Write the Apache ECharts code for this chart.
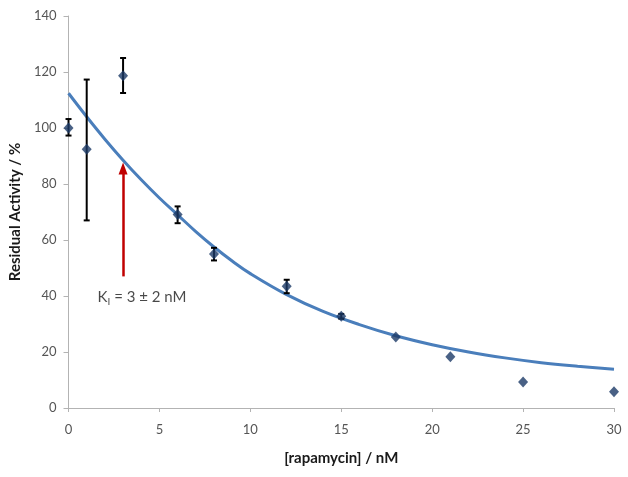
<!DOCTYPE html>
<html><head><meta charset="utf-8">
<script src="https://cdn.jsdelivr.net/npm/echarts@6/dist/echarts.min.js"></script>
<style>html,body{margin:0;padding:0;background:#fff}#c{width:628px;height:477px}</style>
</head><body><div id="c"></div>
<script>
// measured data
const conc = [0, 1, 3, 6, 8, 12, 15, 18, 21, 25, 30];
const activity = [100, 92.4, 118.7, 69.1, 55.0, 43.5, 32.8, 25.4, 18.3, 9.3, 5.8];
const errLow = [97.3, 67, 112.5, 66.0, 52.7, 41.0, 31.9, 25.4, 18.3, 9.3, 5.8];
const errHigh = [103.2, 117.3, 125.0, 72.0, 57.2, 45.8, 33.6, 25.4, 18.3, 9.3, 5.8];
// fitted curve
const fitX = [0, 1, 2, 3, 4, 5, 6, 7, 8, 9, 10, 12, 14, 16, 18, 20, 22, 24, 26, 28, 30];
const fitY = [112.4, 104, 96, 88.5, 81.5, 75, 69, 63, 57.5, 52.5, 48, 40.5, 34.5, 29.8, 25.8, 22.6, 20, 17.9, 16.2, 14.9, 13.8];
// annotation
const arrowX = 3, arrowFrom = 47, arrowTo = 85.5;
const labelPos = [1.6, 39.5];
const xTicks = {min: 0, max: 30, interval: 5};
const yTicks = {min: 0, max: 140, interval: 20};

const font = 'Lato, "Open Sans", sans-serif';
const chart = echarts.init(document.getElementById('c'));
chart.setOption({
  animation: false,
  grid: {left: 68, right: 14, top: 16, bottom: 69},
  xAxis: {
    type: 'value', min: xTicks.min, max: xTicks.max, interval: xTicks.interval,
    name: '[rapamycin] / nM', nameLocation: 'middle', nameGap: 43,
    nameTextStyle: {fontFamily: font, fontWeight: 'bold', fontSize: 15, color: '#1a1a1a'},
    axisLine: {lineStyle: {color: '#b3b3b3', width: 1}},
    axisTick: {show: true, length: 4, lineStyle: {color: '#b3b3b3'}},
    axisLabel: {fontFamily: font, fontSize: 13, color: '#555', margin: 15},
    splitLine: {show: false}
  },
  yAxis: {
    type: 'value', min: yTicks.min, max: yTicks.max, interval: yTicks.interval,
    name: 'Residual Activity / %', nameLocation: 'middle', nameGap: 44,
    nameTextStyle: {fontFamily: font, fontWeight: 'bold', fontSize: 15, color: '#1a1a1a'},
    axisLine: {show: true, lineStyle: {color: '#b3b3b3', width: 1}},
    axisTick: {show: true, length: 5, lineStyle: {color: '#b3b3b3'}},
    axisLabel: {fontFamily: font, fontSize: 13, color: '#555', margin: 12},
    splitLine: {show: false}
  },
  series: [
    {
      type: 'line', data: fitX.map((x, i) => [x, fitY[i]]), smooth: 0.4,
      symbol: 'none', lineStyle: {color: '#4a7ebb', width: 3}, z: 2,
      markLine: {
        silent: true, symbol: ['none', 'triangle'], symbolSize: [9, 12],
        lineStyle: {color: '#c00000', width: 2.5, type: 'solid'},
        label: {show: false},
        data: [[{coord: [arrowX, arrowFrom]}, {coord: [arrowX, arrowTo]}]]
      }
    },
    {
      type: 'custom', z: 3,
      data: conc.map((x, i) => [x, errLow[i], errHigh[i]]),
      renderItem: function (params, api) {
        const lo = api.coord([api.value(0), api.value(1)]);
        const hi = api.coord([api.value(0), api.value(2)]);
        if (Math.abs(lo[1] - hi[1]) < 1) return {type: 'group', children: []};
        const w = 3;
        const st = {stroke: '#000', lineWidth: 2};
        return {type: 'group', children: [
          {type: 'line', shape: {x1: lo[0], y1: lo[1], x2: hi[0], y2: hi[1]}, style: st},
          {type: 'line', shape: {x1: lo[0] - w, y1: lo[1], x2: lo[0] + w, y2: lo[1]}, style: st},
          {type: 'line', shape: {x1: hi[0] - w, y1: hi[1], x2: hi[0] + w, y2: hi[1]}, style: st}
        ]};
      }
    },
    {
      type: 'scatter', data: conc.map((x, i) => [x, activity[i]]),
      symbol: 'diamond', symbolSize: [10, 11], z: 4,
      itemStyle: {color: '#1c3a66'}
    },
    {
      type: 'scatter', data: [labelPos], symbolSize: 0, z: 5, silent: true,
      label: {
        show: true, position: 'right', distance: 0,
        formatter: '{a|K}{b|I}{a| = 3 ± 2 nM}',
        rich: {
          a: {fontFamily: font, fontSize: 15, color: '#1a1a1a'},
          b: {fontFamily: font, fontSize: 10, color: '#1a1a1a', verticalAlign: 'bottom', padding: [8, 0, 0, 0]}
        }
      }
    }
  ]
});
</script></body></html>
